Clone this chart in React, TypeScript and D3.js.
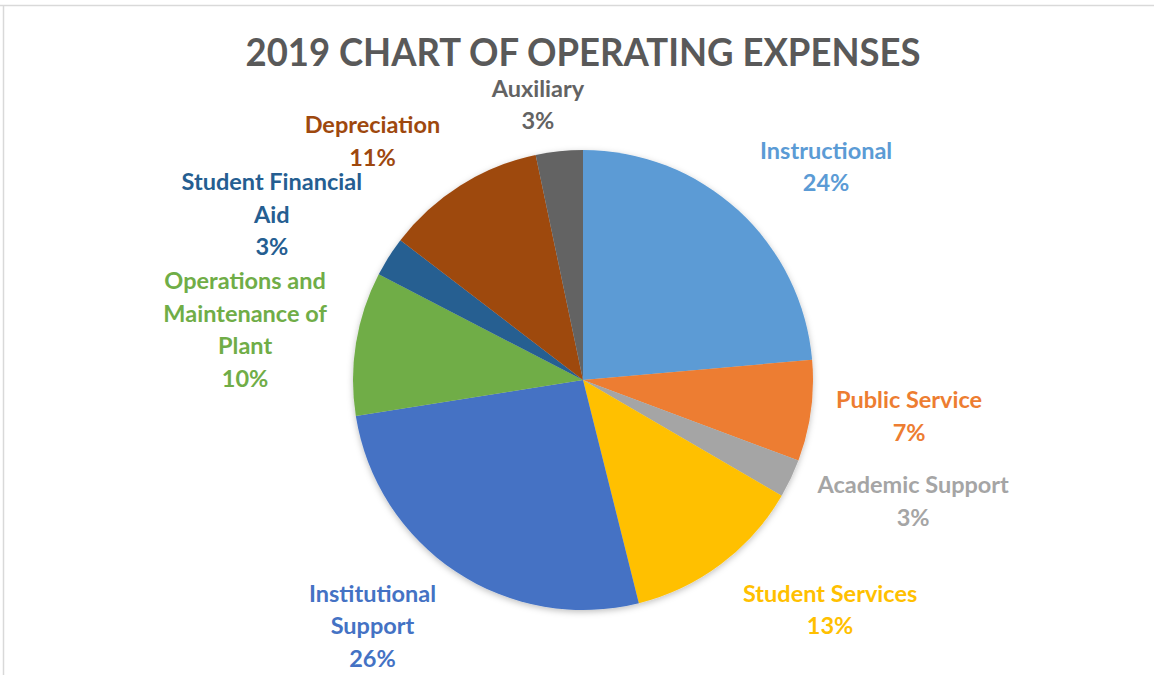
import * as d3 from 'd3'

// chart data (percent of total operating expenses)
const categories = [
  'Instructional',
  'Public Service',
  'Academic Support',
  'Student Services',
  'Institutional Support',
  'Operations and Maintenance of Plant',
  'Student Financial Aid',
  'Depreciation',
  'Auxiliary',
]
const values = [23.6, 7.1, 2.7, 12.7, 26.4, 10.1, 2.8, 11.3, 3.3]
// how each label wraps, as Excel does it
const labelLines = [
  ['Instructional'],
  ['Public Service'],
  ['Academic Support'],
  ['Student Services'],
  ['Institutional', 'Support'],
  ['Operations and', 'Maintenance of', 'Plant'],
  ['Student Financial', 'Aid'],
  ['Depreciation'],
  ['Auxiliary'],
]
const colors = ['#5B9BD5', '#ED7D31', '#A5A5A5', '#FFC000', '#4472C4', '#70AD47', '#255E91', '#9E480E', '#636363']

// best-fit offsets of the labels from their spot on the label ring
const labelNudge: [number, number][] = [
  [27, 23], [9, -7], [41, -16], [55, -26], [-34, -21], [-22, 1], [-41, 6], [-40, 32], [-12, 43],
]

const W = 1154
const H = 675
const cx = 583
const cy = 380
const radius = 230
const labelRadius = 320
const lineH = 32.5
const font = 'Lato, "Open Sans", sans-serif'

export default function App() {
  const pie = d3.pie<number>().sort(null).value((d) => d)
  const arcs = pie(values)
  const arc = d3.arc<d3.PieArcDatum<number>>().innerRadius(0).outerRadius(radius)
  const total = d3.sum(values)

  return (
    <svg
      width={W}
      height={H}
      style={{ position: 'absolute', left: 0, top: 0, background: '#fff' }}
    >
      <defs>
        <filter id="shadow" x="-20%" y="-20%" width="140%" height="140%">
          <feDropShadow dx="0" dy="2" stdDeviation="3" floodColor="#000" floodOpacity="0.25" />
        </filter>
      </defs>
      {/* chart area border */}
      <line x1={0} y1={5.5} x2={W} y2={5.5} stroke="#d9d9d9" strokeWidth={1.5} />
      <line x1={3.5} y1={5} x2={3.5} y2={H} stroke="#d9d9d9" strokeWidth={1.5} />

      <text
        x={583}
        y={66}
        textAnchor="middle"
        fontFamily={font}
        fontWeight="bold"
        fontSize={39}
        fill="#595959"
        textLength={675}
        lengthAdjust="spacingAndGlyphs"
      >
        2019 CHART OF OPERATING EXPENSES
      </text>

      <g transform={`translate(${cx},${cy})`}>
        <g filter="url(#shadow)">
          {arcs.map((a, i) => (
            <path key={categories[i]} d={arc(a) || ''} fill={colors[i]} />
          ))}
        </g>
        {arcs.map((a, i) => {
          const mid = (a.startAngle + a.endAngle) / 2
          const lines = [...labelLines[i], `${Math.round((values[i] / total) * 100)}%`]
          const x = labelRadius * Math.sin(mid) + labelNudge[i][0]
          const y = -labelRadius * Math.cos(mid) + labelNudge[i][1]
          const top = y - ((lines.length - 1) * lineH) / 2
          return (
            <text
              key={'l' + i}
              textAnchor="middle"
              fontFamily={font}
              fontWeight="bold"
              fontSize={23.5}
              fill={colors[i]}
            >
              {lines.map((t, j) => (
                <tspan key={j} x={x} y={top + j * lineH} dy="0.35em">
                  {t}
                </tspan>
              ))}
            </text>
          )
        })}
      </g>
    </svg>
  )
}
